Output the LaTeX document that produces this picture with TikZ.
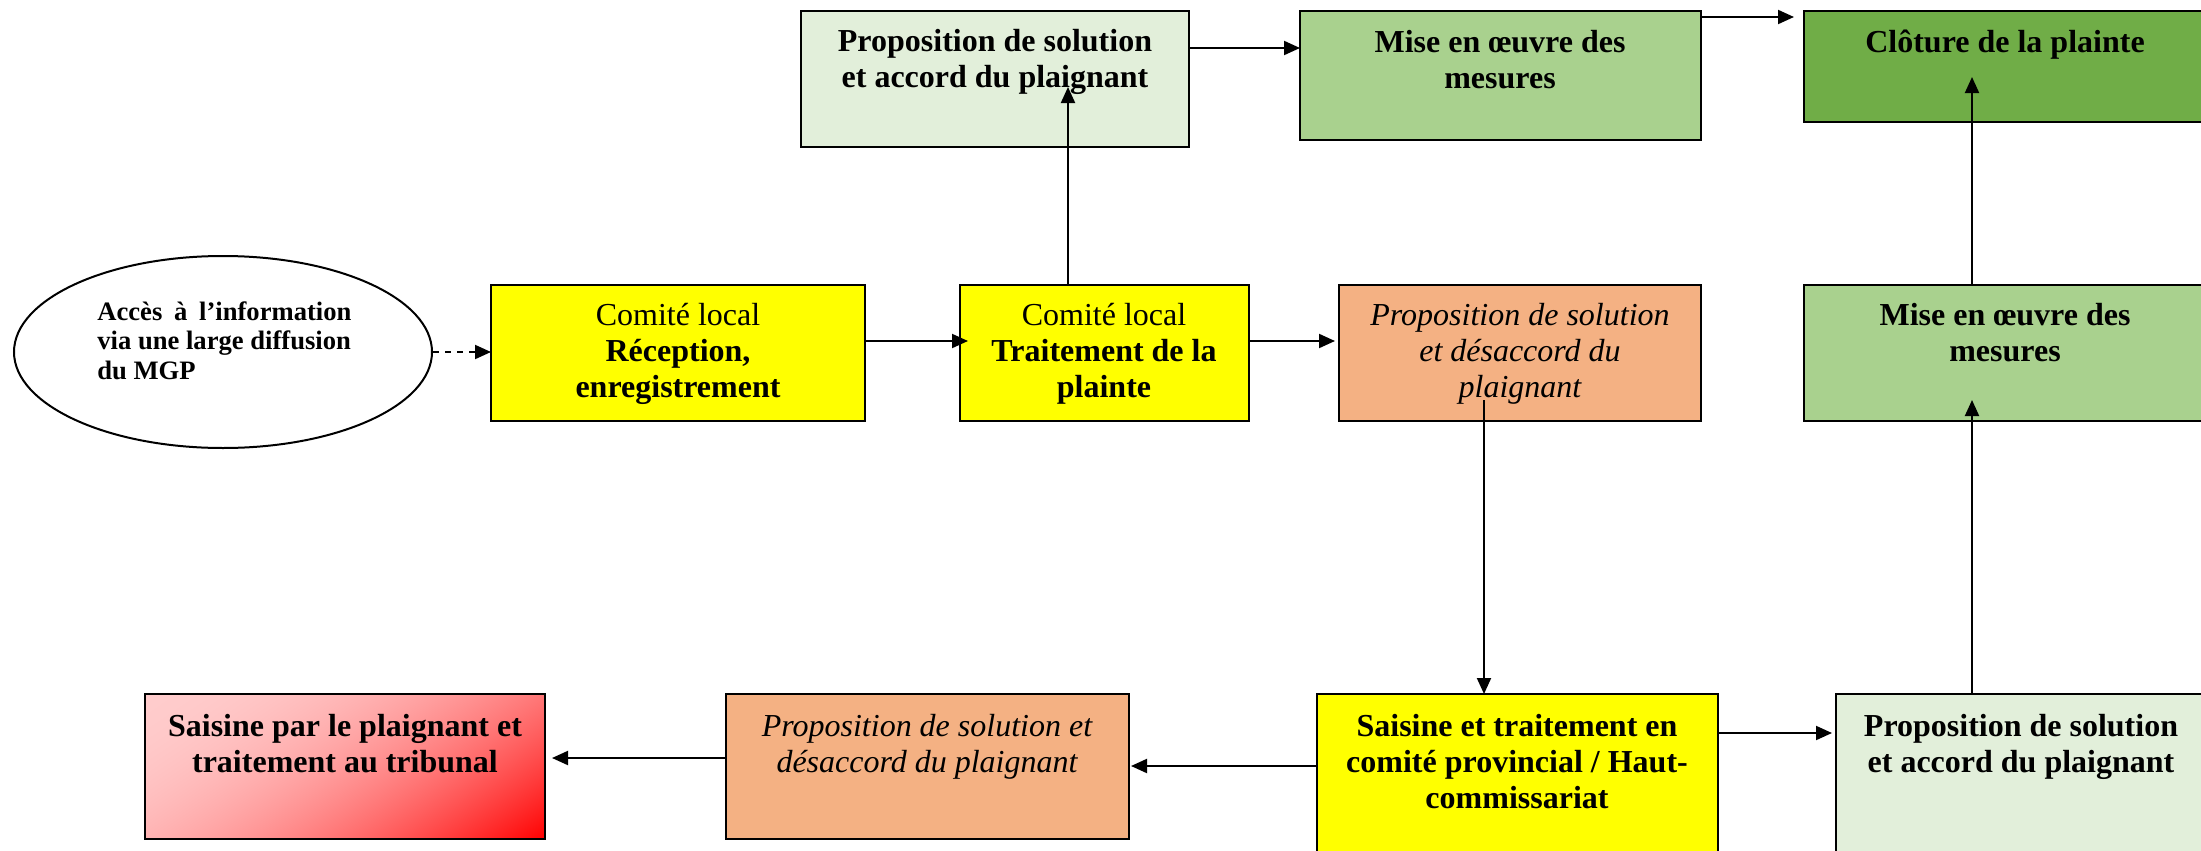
\documentclass[tikz,border=0pt]{standalone}
\usepackage{fontspec}
\setmainfont{Liberation Serif}
\usetikzlibrary{arrows.meta,shapes.geometric}
\definecolor{cyel}{HTML}{FFFF00}
\definecolor{cpale}{HTML}{E2EFDA}
\definecolor{cmid}{HTML}{A9D18E}
\definecolor{cdark}{HTML}{70AD47}
\definecolor{corange}{HTML}{F4B183}
\pgfdeclarefunctionalshading{redgrad}{\pgfpoint{0bp}{0bp}}{\pgfpoint{100bp}{100bp}}{}{
  75 exch sub
  exch 25 sub
  0.013 mul exch 0.007 mul add
  dup 0 lt {pop 0} if
  dup 1 gt {pop 1} if
  dup mul
  1 exch sub 0.8 mul
  1 exch dup
}
\begin{document}
\begin{tikzpicture}[x=0.5pt,y=-0.5pt,
  box/.style={draw=black, line width=1pt, rectangle, inner sep=0pt, outer sep=0pt, anchor=north west},
  txt/.style={anchor=north, inner sep=0pt, align=center, font=\fontsize{16pt}{18pt}\selectfont},
  arr/.style={line width=1pt, -{Triangle[length=8pt,width=7pt]}}]
\useasboundingbox (0,0) rectangle (2201,851);

% ellipse
\node[draw=black, line width=1pt, ellipse, minimum width=209pt, minimum height=96pt, inner sep=0pt] (ell) at (223,352) {};
\node[anchor=north west, inner sep=0pt, align=left, font=\fontsize{13.3pt}{14.75pt}\selectfont\bfseries] (tell) at (97,301)
  {\hbox to 127pt{Accès\hfill à\hfill l’information}\\via une large diffusion\\du MGP};

% boxes
\node[box, fill=cyel, minimum width=187pt, minimum height=68pt] (rec) at (491,285) {};
\node[box, fill=cyel, minimum width=144.5pt, minimum height=68pt] (trt) at (960,285) {};
\node[box, fill=corange, minimum width=181pt, minimum height=68pt] (dis1) at (1339,285) {};
\node[box, fill=cmid, minimum width=201pt, minimum height=68pt] (mise2) at (1804,285) {};
\node[box, fill=cdark, minimum width=201pt, minimum height=55.5pt] (clo) at (1804,11) {};
\node[box, fill=cpale, minimum width=194pt, minimum height=68pt] (acc1) at (801,11) {};
\node[box, fill=cmid, minimum width=200.5pt, minimum height=64.5pt] (mise1) at (1300,11) {};
\node[box, fill=cyel, minimum width=200.5pt, minimum height=90pt] (sai) at (1317,694) {};
\node[box, fill=cpale, minimum width=187pt, minimum height=90pt] (acc2) at (1836,694) {};
\node[box, fill=corange, minimum width=201.5pt, minimum height=72.5pt] (dis2) at (726,694) {};
\node[box, shading=redgrad, minimum width=200pt, minimum height=72.5pt] (trib) at (145,694) {};

% texts
\node[txt] (t-rec) at (678,303) {Comité local\\\textbf{Réception,}\\\textbf{enregistrement}};
\node[txt] (t-trt) at (1104,303) {Comité local\\\textbf{Traitement de la}\\\textbf{plainte}};
\node[txt, font=\fontsize{16pt}{18pt}\selectfont\itshape] (t-dis1) at (1520,303) {Proposition de solution\\et désaccord du\\plaignant};
\node[txt, font=\fontsize{16pt}{18pt}\selectfont\bfseries] (t-mise2) at (2005,303) {Mise en œuvre des\\mesures};
\node[txt, font=\fontsize{16pt}{18pt}\selectfont\bfseries] (t-clo) at (2005,30) {Clôture de la plainte};
\node[txt, font=\fontsize{16pt}{18pt}\selectfont\bfseries] (t-acc1) at (995,29) {Proposition de solution\\et accord du plaignant};
\node[txt, font=\fontsize{16pt}{18pt}\selectfont\bfseries] (t-mise1) at (1500,30) {Mise en œuvre des\\mesures};
\node[txt, font=\fontsize{16pt}{18pt}\selectfont\bfseries] (t-sai) at (1517,714) {Saisine et traitement en\\comité provincial / Haut-\\commissariat};
\node[txt, font=\fontsize{16pt}{18pt}\selectfont\bfseries] (t-acc2) at (2021,714) {Proposition de solution\\et accord du plaignant};
\node[txt, font=\fontsize{16pt}{18pt}\selectfont\itshape] (t-dis2) at (927,714) {Proposition de solution et\\désaccord du plaignant};
\node[txt, font=\fontsize{16pt}{18pt}\selectfont\bfseries] (t-trib) at (345,714) {Saisine par le plaignant et\\traitement au tribunal};

% helper coordinates
\coordinate (c1) at (1068,87);
\coordinate (f1) at (1794,17);
\coordinate (g1) at (1484,400);
\coordinate (i1) at (1972,400);
\coordinate (j1) at (1972,77);
\coordinate (b1) at ([yshift=6pt]rec.east);
\coordinate (c2) at ([yshift=6pt]trt.east);
\coordinate (e1) at ([yshift=15.5pt]acc1.east);
\coordinate (h1) at ([yshift=25.5pt]sai.east);
\coordinate (k1) at ([yshift=9pt]sai.west);
\coordinate (l1) at ([yshift=4.25pt]dis2.west);

% connectors
\draw[arr, dashed] (ell.east) -- (ell.east -| rec.west);
\draw[arr, shorten >=-4pt] (b1) -- (b1 -| trt.west);
\draw[arr, shorten >=2pt] (c2) -- (c2 -| dis1.west);
\draw[arr] (trt.north -| c1) -- (c1);
\draw[arr] (e1) -- (e1 -| mise1.west);
\draw[arr] (mise1.east |- f1) -- (f1);
\draw[arr] (g1) -- (g1 |- sai.north);
\draw[arr, shorten >=2pt] (h1) -- (h1 -| acc2.west);
\draw[arr] (i1 |- acc2.north) -- (i1);
\draw[arr] (i1 |- mise2.north) -- (j1);
\draw[arr, shorten >=1pt] (k1) -- (k1 -| dis2.east);
\draw[arr, shorten >=3.5pt] (l1) -- (l1 -| trib.east);
\end{tikzpicture}
\end{document}
